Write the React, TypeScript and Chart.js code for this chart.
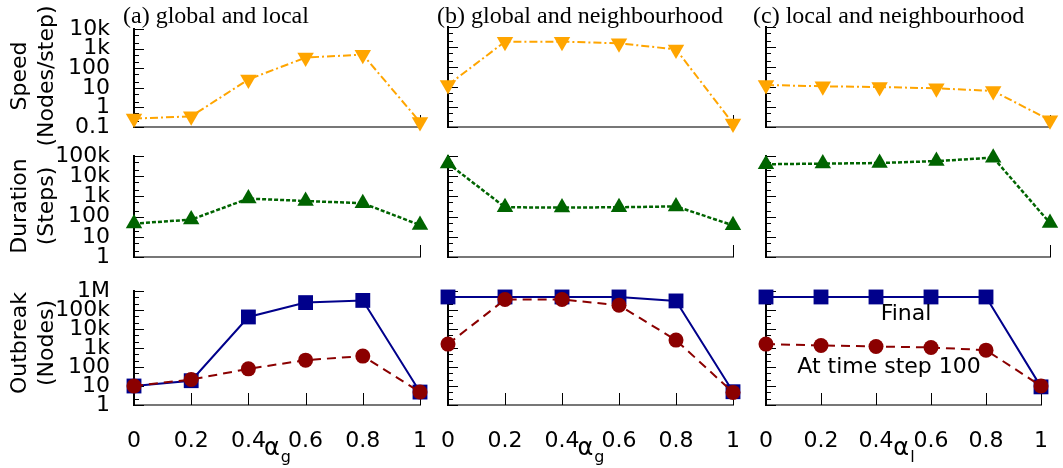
import React, { useEffect, useRef } from 'react';
import { Chart, registerables } from 'chart.js';

Chart.register(...registerables);

const W = 1063;
const H = 468;
const SANS = '"DejaVu Sans", sans-serif';
const SERIF = '"Liberation Serif", "Times New Roman", serif';

// ---- data ----
const alphaValues = [0, 0.2, 0.4, 0.6, 0.8, 1];
const xTickLabels = ['0', '0.2', '0.4', '0.6', '0.8', '1'];

const speedGlobalLocal = [0.27, 0.35, 27, 355, 500, 0.18];
const speedGlobalNeigh = [12.6, 1850, 1850, 1530, 760, 0.15];
const speedLocalNeigh = [12.6, 10.8, 10, 8.6, 6.3, 0.22];

const durationGlobalLocal = [45, 71, 780, 590, 460, 38];
const durationGlobalNeigh = [43000, 290, 280, 290, 320, 37];
const durationLocalNeigh = [39000, 42000, 45000, 56000, 83000, 48];

const finalGlobalLocal = [10, 19, 43000, 245000, 320000, 4.8];
const step100GlobalLocal = [10, 22, 80, 230, 375, 4.8];
const finalGlobalNeigh = [485000, 485000, 485000, 485000, 300000, 5];
const step100GlobalNeigh = [1600, 355000, 360000, 177000, 2600, 4.6];
const finalLocalNeigh = [485000, 485000, 485000, 485000, 485000, 9];
const step100LocalNeigh = [1600, 1360, 1200, 1070, 770, 10];

const speedTickLabels = ['0.1', '1', '10', '100', '1k', '10k'];
const durationTickLabels = ['1', '10', '100', '1k', '10k', '100k'];
const outbreakTickLabels = ['1', '10', '100', '1k', '10k', '100k', '1M'];

const panelTitles = ['(a) global and local', '(b) global and neighbourhood', '(c) local and neighbourhood'];
const xTitleSubs = ['g', 'g', 'l'];
const rowTitles = [['Speed', '(Nodes/step)'], ['Duration', '(Steps)'], ['Outbreak', '(Nodes)']];
const finalLabel = 'Final';
const step100Label = 'At time step 100';

// ---- styles ----
const ORANGE = '#ffa500';
const GREEN = '#006400';
const NAVY = '#00008b';
const DARKRED = '#8b0000';
const minorMantissas = [2, 5];

const cols = [
  { left: 134, right: 420, yAxisW: 134, titleX: 123 },
  { left: 448, right: 733, yAxisW: 10, titleX: 437 },
  { left: 766, right: 1050, yAxisW: 10, titleX: 753 },
];
const rows = [
  { top: 27, bottom: 127, min: 0.1, max: 10000, labels: speedTickLabels, xH: 10, titleY: 76 },
  { top: 156, bottom: 257, min: 1, max: 100000, labels: durationTickLabels, xH: 10, titleY: 206 },
  { top: 291, bottom: 405, min: 1, max: 1000000, labels: outbreakTickLabels, xH: 60, titleY: 343 },
];

function pts(values: number[]) {
  return alphaValues.map((x, i) => ({ x, y: values[i] }));
}

function speedDs(values: number[]) {
  return {
    data: pts(values), borderColor: ORANGE, backgroundColor: ORANGE, borderWidth: 2,
    borderDash: [8, 3, 2, 3], pointStyle: 'triangle', pointRotation: 180, pointRadius: 9.5,
    pointBackgroundColor: ORANGE, pointBorderWidth: 0, clip: false, tension: 0,
  };
}
function durationDs(values: number[]) {
  return {
    data: pts(values), borderColor: GREEN, backgroundColor: GREEN, borderWidth: 2.5,
    borderDash: [4, 2], pointStyle: 'triangle', pointRotation: 0, pointRadius: 9.5,
    pointBackgroundColor: GREEN, pointBorderWidth: 0, clip: false, tension: 0,
  };
}
function finalDs(values: number[]) {
  return {
    data: pts(values), borderColor: NAVY, backgroundColor: NAVY, borderWidth: 2,
    pointStyle: 'rect', pointRadius: 10.5, pointBackgroundColor: NAVY, pointBorderWidth: 0,
    clip: false, tension: 0,
  };
}
function step100Ds(values: number[]) {
  return {
    data: pts(values), borderColor: DARKRED, backgroundColor: DARKRED, borderWidth: 2,
    borderDash: [9, 6], pointStyle: 'circle', pointRadius: 7.5, pointBackgroundColor: DARKRED,
    pointBorderWidth: 0, clip: false, tension: 0,
  };
}

const panelData = [
  [[speedDs(speedGlobalLocal)], [speedDs(speedGlobalNeigh)], [speedDs(speedLocalNeigh)]],
  [[durationDs(durationGlobalLocal)], [durationDs(durationGlobalNeigh)], [durationDs(durationLocalNeigh)]],
  [
    [step100Ds(step100GlobalLocal), finalDs(finalGlobalLocal)],
    [step100Ds(step100GlobalNeigh), finalDs(finalGlobalNeigh)],
    [step100Ds(step100LocalNeigh), finalDs(finalLocalNeigh)],
  ],
];

function makeConfig(r: number, c: number): any {
  const row = rows[r];
  const col = cols[c];
  const logMin = Math.round(Math.log10(row.min));
  const decor = {
    id: 'decor',
    beforeDatasetsDraw(chart: any) {
      const { ctx, chartArea } = chart;
      const ys = chart.scales.y;
      const xs = chart.scales.x;
      ctx.save();
      ctx.strokeStyle = '#000';
      ctx.lineWidth = 1;
      const logMax = Math.round(Math.log10(row.max));
      for (let n = logMin; n <= logMax; n++) {
        const base = Math.pow(10, n);
        const y = Math.round(ys.getPixelForValue(base)) + 0.5;
        ctx.beginPath();
        ctx.moveTo(chartArea.left, y);
        ctx.lineTo(chartArea.left + 10, y);
        ctx.stroke();
        if (n < logMax) {
          minorMantissas.forEach((m) => {
            const ym = Math.round(ys.getPixelForValue(m * base)) + 0.5;
            ctx.beginPath();
            ctx.moveTo(chartArea.left, ym);
            ctx.lineTo(chartArea.left + 5, ym);
            ctx.stroke();
          });
        }
      }
      const xt = r === 2 ? alphaValues.slice(1) : [1];
      xt.forEach((v) => {
        const x = Math.round(xs.getPixelForValue(v)) + 0.5;
        ctx.beginPath();
        ctx.moveTo(x, chartArea.bottom);
        ctx.lineTo(x, chartArea.bottom - 12);
        ctx.stroke();
      });
      ctx.restore();
    },
    afterDraw(chart: any) {
      const { ctx, chartArea } = chart;
      ctx.save();
      ctx.fillStyle = '#000';
      if (r === 0) {
        ctx.font = `24px ${SERIF}`;
        ctx.textAlign = 'left';
        ctx.textBaseline = 'alphabetic';
        ctx.fillText(panelTitles[c], col.titleX, 23);
      }
      if (c === 0) {
        ctx.font = `22px ${SANS}`;
        ctx.textAlign = 'center';
        ctx.textBaseline = 'middle';
        const lines = rowTitles[r];
        [20, 47].forEach((x, i) => {
          ctx.save();
          ctx.translate(x, row.titleY);
          ctx.rotate(-Math.PI / 2);
          ctx.fillText(lines[i], 0, 0);
          ctx.restore();
        });
      }
      if (r === 2) {
        const cx = (chartArea.left + chartArea.right) / 2;
        ctx.font = `24px ${SANS}`;
        const wa = ctx.measureText('α').width;
        ctx.font = `16px ${SANS}`;
        const ws = ctx.measureText(xTitleSubs[c]).width;
        const x0 = cx - (wa + ws) / 2;
        ctx.textAlign = 'left';
        ctx.textBaseline = 'middle';
        ctx.font = `24px ${SANS}`;
        ctx.fillText('α', x0, 449);
        ctx.font = `16px ${SANS}`;
        ctx.fillText(xTitleSubs[c], x0 + wa + 1, 458);
      }
      if (r === 2 && c === 2) {
        ctx.font = `22px ${SANS}`;
        ctx.textAlign = 'center';
        ctx.textBaseline = 'middle';
        ctx.fillText(finalLabel, 906, 314);
        ctx.fillText(step100Label, 889, 367);
      }
      ctx.restore();
    },
  };
  return {
    type: 'line',
    data: { datasets: panelData[r][c] },
    options: {
      animation: false,
      responsive: false,
      maintainAspectRatio: false,
      events: [],
      layout: {
        padding: {
          left: col.left - col.yAxisW,
          right: W - col.right,
          top: row.top,
          bottom: H - row.bottom - row.xH,
        },
      },
      plugins: { legend: { display: false }, tooltip: { enabled: false }, title: { display: false } },
      scales: {
        x: {
          type: 'linear',
          min: 0,
          max: 1,
          position: 'bottom',
          grid: { display: false },
          border: { display: true, color: '#777777', width: 2 },
          ticks: {
            display: r === 2,
            stepSize: 0.2,
            autoSkip: false,
            maxRotation: 0,
            padding: 15,
            color: '#000',
            font: { family: SANS, size: 22 },
            callback: (_v: any, i: number) => xTickLabels[i],
          },
          afterFit: (s: any) => {
            s.height = row.xH;
          },
        },
        y: {
          type: 'logarithmic',
          min: row.min,
          max: row.max,
          position: 'left',
          grid: { display: false },
          border: { display: true, color: '#000', width: 2 },
          ticks: {
            display: c === 0,
            autoSkip: false,
            padding: 16,
            color: '#000',
            font: { family: SANS, size: 22 },
            callback: (v: any) => {
              const lg = Math.log10(Number(v));
              const e = Math.round(lg);
              if (Math.abs(lg - e) > 1e-6) return '';
              return row.labels[e - logMin] ?? '';
            },
          },
          afterFit: (s: any) => {
            s.width = col.yAxisW;
          },
        },
      },
    },
    plugins: [decor],
  };
}

function Panel({ r, c }: { r: number; c: number }) {
  const ref = useRef<HTMLCanvasElement>(null);
  useEffect(() => {
    const chart = new Chart(ref.current as HTMLCanvasElement, makeConfig(r, c));
    return () => chart.destroy();
  }, [r, c]);
  return (
    <canvas
      ref={ref}
      width={W}
      height={H}
      style={{ position: 'absolute', left: 0, top: 0, width: W, height: H }}
    />
  );
}

export default function App() {
  const cells: Array<[number, number]> = [];
  for (let r = 0; r < 3; r++) for (let c = 0; c < 3; c++) cells.push([r, c]);
  return (
    <div style={{ position: 'absolute', left: 0, top: 0, width: W, height: H, background: '#fff', overflow: 'hidden' }}>
      {cells.map(([r, c]) => (
        <Panel key={`${r}-${c}`} r={r} c={c} />
      ))}
    </div>
  );
}
